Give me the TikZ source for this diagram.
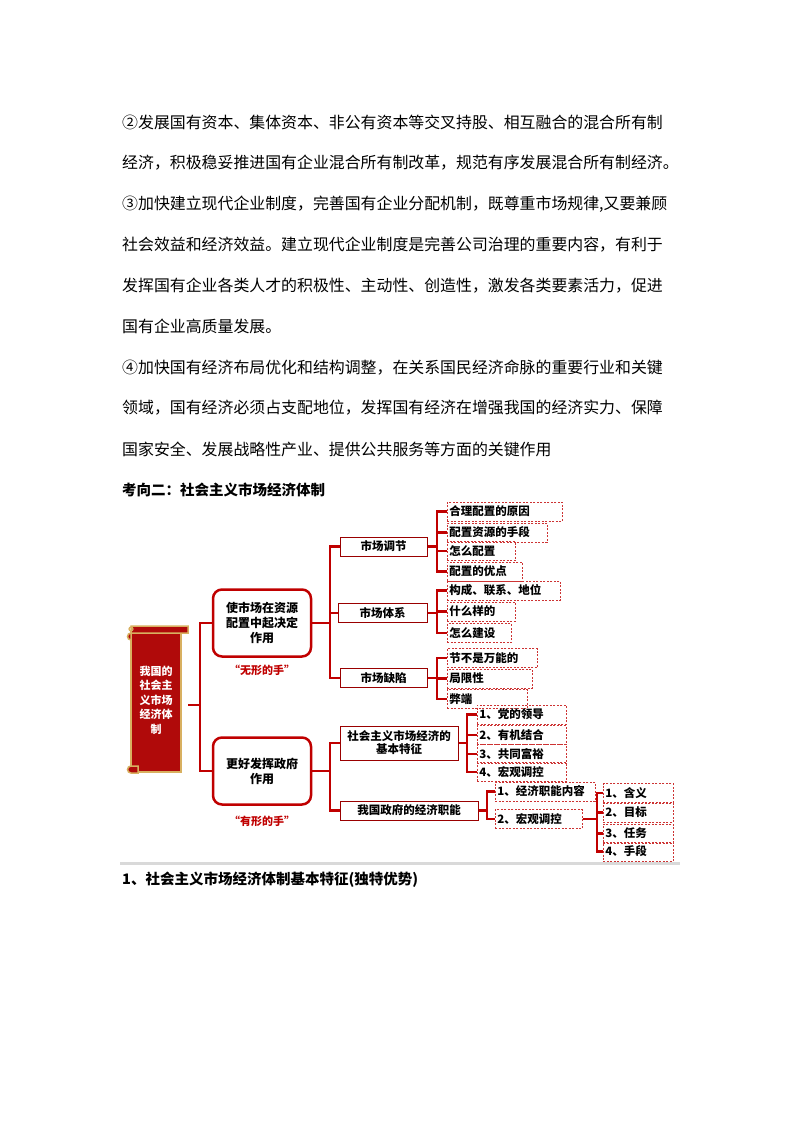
\documentclass[tikz,border=0pt]{standalone}
\usepackage{fontspec}
\setmainfont{Noto Sans CJK SC}
\newfontfamily\cjk{Noto Sans CJK SC}
\definecolor{dred}{HTML}{C00000}
\definecolor{scroll}{HTML}{B00A0A}
\definecolor{gold}{HTML}{D8B060}
\begin{document}
\begin{tikzpicture}[x=1pt,y=-1pt,
  body/.style={anchor=west,inner sep=0pt,font=\fontsize{15.9}{16}\selectfont},
  head/.style={anchor=west,inner sep=0pt,font=\fontsize{14.5}{16}\selectfont\bfseries},
  br/.style={draw=dred,line width=2.6pt},
  sbox/.style={draw=dred!80!black,line width=1pt,fill=white,inner sep=1pt,font=\fontsize{11.5}{12}\selectfont\bfseries,align=center},
  rbox/.style={draw=dred,line width=2.5pt,rounded corners=9pt,fill=white,minimum width=98pt,minimum height=67pt,align=center,font=\fontsize{12}{15}\selectfont\bfseries},
  dbox/.style={draw=dred!80,dashed,dash pattern=on 2pt off 1.5pt,line width=0.7pt,anchor=west,inner sep=2pt,align=left,font=\fontsize{11.5}{12}\selectfont\bfseries,minimum height=19pt},
  hand/.style={text=dred,font=\fontsize{11}{12}\selectfont\bfseries}]
\useasboundingbox (0,0) rectangle (800,1132);
\fill[white] (0,0) rectangle (800,1132);
% body text
\node[body] (l1) at (122,122) {②发展国有资本、集体资本、非公有资本等交叉持股、相互融合的混合所有制};
\node[body] (l2) at (122,163) {经济，积极稳妥推进国有企业混合所有制改革，规范有序发展混合所有制经济。};
\node[body] (l3) at (122,204) {③加快建立现代企业制度，完善国有企业分配机制，既尊重市场规律,又要兼顾};
\node[body] (l4) at (122,245) {社会效益和经济效益。建立现代企业制度是完善公司治理的重要内容，有利于};
\node[body] (l5) at (122,286) {发挥国有企业各类人才的积极性、主动性、创造性，激发各类要素活力，促进};
\node[body] (l6) at (122,326) {国有企业高质量发展。};
\node[body] (l7) at (122,368) {④加快国有经济布局优化和结构调整，在关系国民经济命脉的重要行业和关键};
\node[body] (l8) at (122,408) {领域，国有经济必须占支配地位，发挥国有经济在增强我国的经济实力、保障};
\node[body] (l9) at (122,449) {国家安全、发展战略性产业、提供公共服务等方面的关键作用};
\node[head] (h1) at (122,490) {考向二：社会主义市场经济体制};
\node[head] (h2) at (122,880) {1、社会主义市场经济体制基本特征(独特优势)};
% bottom grey line
\draw[black!15,line width=3pt] (120,863) -- (680,863);
% scroll
\draw[gold,line width=1.5pt,fill=scroll] (131,632) rectangle (181,772);
\draw[gold,line width=1.5pt,fill=scroll] (131,626) -- (188,626) -- (188,633) -- (131,633) arc (90:270:3.5pt) -- cycle;
\draw[gold,line width=1.2pt] (131,629) circle (2pt);
\draw[gold,line width=1.5pt,fill=scroll] (131,766) arc (90:270:3.5pt) -- (138,773) -- (138,766) -- cycle;
\node[text=white,align=center,font=\fontsize{11}{14.5}\selectfont\bfseries] (root) at (156,700) {我国的\\社会主\\义市场\\经济体\\制};
\coordinate (rootE) at (188,705);
% level 1
\node[rbox] (b1) at (262,623) {使市场在资源\\配置中起决定\\作用};
\node[rbox] (b2) at (262,771) {更好发挥政府\\作用};
\node[hand] (hd1) at (262,670) {“无形的手”};
\node[hand] (hd2) at (262,821) {“有形的手”};
\draw[br] (rootE) -- (200,705);
\draw[br] (200,705) |- (b1.west);
\draw[br] (200,705) |- (b2.west);
% level 2
\node[sbox,minimum width=87pt,minimum height=19pt] (m1) at (383.5,546.5) {市场调节};
\node[sbox,minimum width=89pt,minimum height=19pt] (m2) at (382.5,613) {市场体系};
\node[sbox,minimum width=87pt,minimum height=19pt] (m3) at (383.5,678) {市场缺陷};
\node[sbox,minimum width=118pt,minimum height=34pt,font=\fontsize{11.5}{13}\selectfont\bfseries] (m4) at (399,743) {社会主义市场经济的\\基本特征};
\node[sbox,minimum width=138pt,minimum height=19pt] (m5) at (409,810.5) {我国政府的经济职能};
\draw[br] (b1.east) -- (330,623);
\foreach \c in {m1,m2,m3} \draw[br] (330,623) |- (\c.west);
\draw[br] (b2.east) -- (330,771);
\foreach \c in {m4,m5} \draw[br] (330,771) |- (\c.west);
% leaves of m1
\node[dbox,text width=111pt] (a1) at (447,511.5) {合理配置的原因};
\node[dbox,text width=96pt] (a2) at (447,532.5) {配置资源的手段};
\node[dbox,text width=64pt] (a3) at (447,551) {怎么配置};
\node[dbox,text width=71pt] (a4) at (447,571.5) {配置的优点};
\draw[br] (m1.east) -- (437,546.5);
\foreach \c in {a1,a2,a3,a4} \draw[br] (437,546.5) |- (\c.west);
% leaves of m2
\node[dbox,text width=109pt] (c1) at (447,590.5) {构成、联系、地位};
\node[dbox,text width=64pt] (c2) at (447,611.5) {什么样的};
\node[dbox,text width=60pt] (c3) at (447,633) {怎么建设};
\draw[br] (m2.east) -- (437,613);
\foreach \c in {c1,c2,c3} \draw[br] (437,613) |- (\c.west);
% leaves of m3
\node[dbox,text width=86pt] (d1) at (447,658) {节不是万能的};
\node[dbox,text width=81pt] (d2) at (447,678.5) {局限性};
\node[dbox,text width=76pt] (d3) at (447,699) {弊端};
\draw[br] (m3.east) -- (437,678);
\foreach \c in {d1,d2,d3} \draw[br] (437,678) |- (\c.west);
% leaves of m4
\node[dbox,text width=85pt] (e1) at (477,714.5) {1、党的领导};
\node[dbox,text width=85pt] (e2) at (477,735) {2、有机结合};
\node[dbox,text width=85pt] (e3) at (477,754) {3、共同富裕};
\node[dbox,text width=85pt] (e4) at (477,772) {4、宏观调控};
\draw[br] (m4.east) -- (467,743);
\foreach \c in {e1,e2,e3,e4} \draw[br] (467,743) |- (\c.west);
% leaves of m5
\node[dbox,text width=96pt] (f1) at (495,791.5) {1、经济职能内容};
\node[dbox,text width=83pt] (f2) at (495,819) {2、宏观调控};
\draw[br] (m5.east) -- (487,810.5);
\foreach \c in {f1,f2} \draw[br] (487,810.5) |- (\c.west);
% leaves of f2
\node[dbox,text width=66pt] (g1) at (603,793) {1、含义};
\node[dbox,text width=66pt] (g2) at (603,812.5) {2、目标};
\node[dbox,text width=66pt] (g3) at (603,833.5) {3、任务};
\node[dbox,text width=66pt] (g4) at (603,851.5) {4、手段};
\draw[br] (f2.east) -- (597,819);
\foreach \c in {g1,g2,g3,g4} \draw[br] (597,819) |- (\c.west);
\end{tikzpicture}
\end{document}
